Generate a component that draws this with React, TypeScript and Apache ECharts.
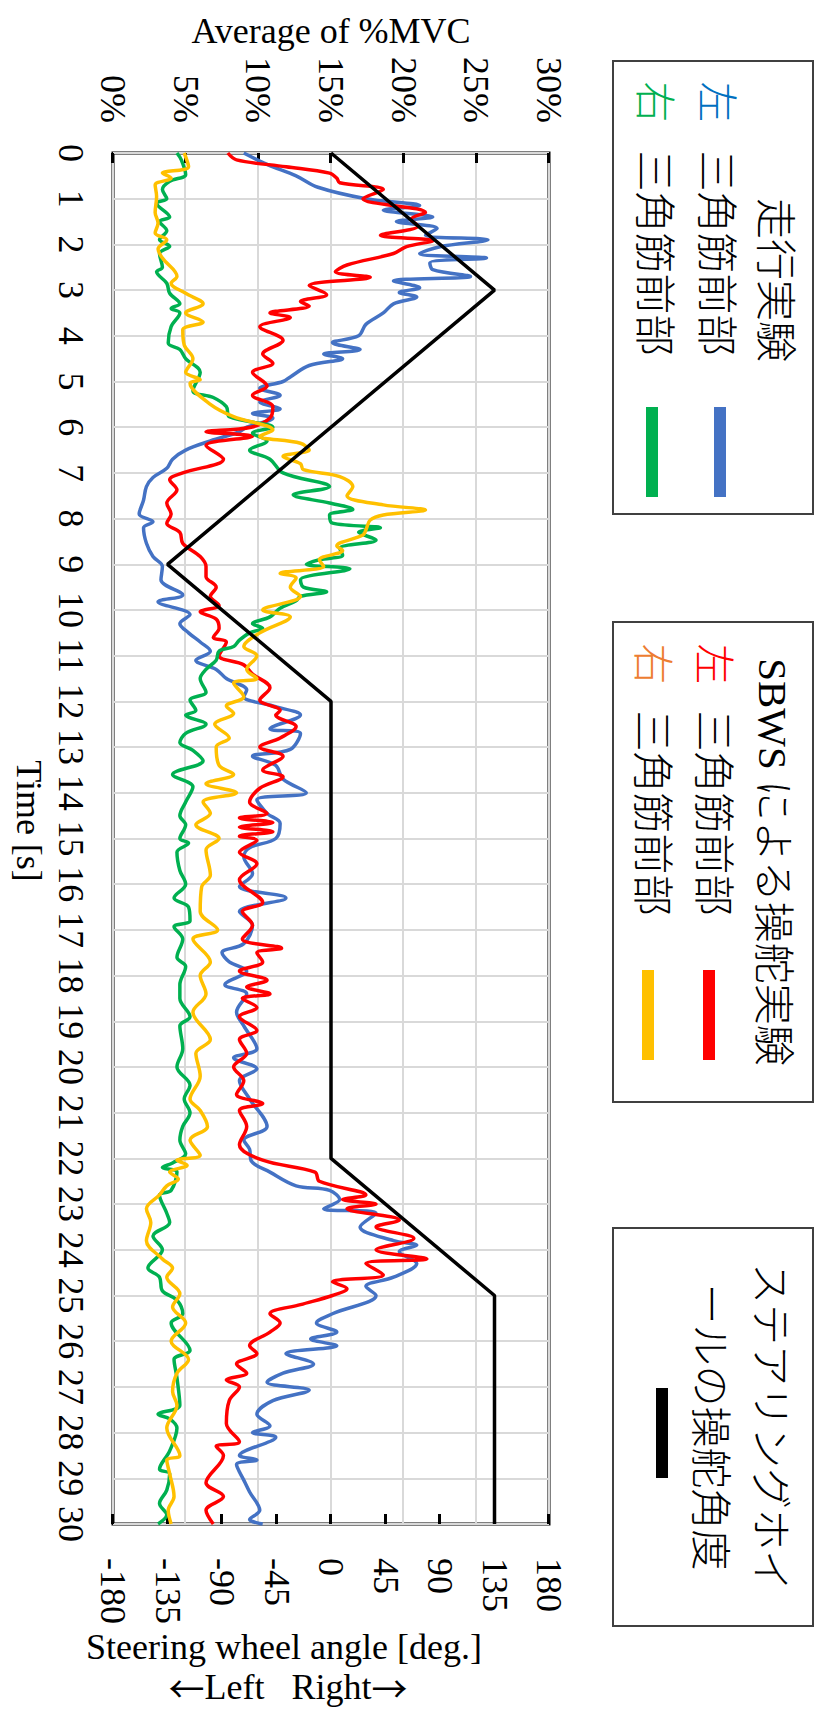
import React, { useEffect, useRef } from "react";
import * as echarts from "echarts";

// The chart is laid out landscape (1715 x 819) and turned a quarter turn clockwise on the page.
const W = 1715;
const H = 819;
const FONT = "'Liberation Serif', 'Noto Sans CJK JP', serif";
const CJK = "'Noto Sans CJK JP', sans-serif";

// Steering wheel angle [deg.]
const wheelT = [0, 3, 9, 12, 22, 25, 30];
const wheelDeg = [0, 135, -135, 0, 0, 135, 135];

// 走行実験 左 三角筋前部 (%MVC)
const driveLeftT = [0, 0.25, 0.5, 0.75, 1.0, 1.15, 1.25, 1.4, 1.5, 1.65, 1.8, 1.9, 2.05, 2.2, 2.3, 2.4, 2.55, 2.7, 2.8, 2.95, 3.05, 3.15, 3.3, 3.5, 3.75, 4.0, 4.15, 4.3, 4.4, 4.5, 4.65, 4.9, 5.0, 5.15, 5.3, 5.45, 5.6, 5.7, 5.8, 6.0, 6.1, 6.3, 6.5, 6.7, 6.9, 7.1, 7.3, 7.6, 7.9, 8.07, 8.2, 8.54, 8.83, 9.05, 9.34, 9.67, 9.82, 10.1, 10.3, 10.5, 10.7, 10.9, 11.1, 11.3, 11.5, 11.75, 11.9, 12.1, 12.3, 12.6, 12.7, 13.05, 13.2, 13.4, 13.7, 14.0, 14.15, 14.45, 14.67, 15.0, 15.2, 15.4, 15.77, 16.05, 16.3, 16.6, 16.9, 17.3, 17.5, 17.7, 17.9, 18.2, 18.4, 18.8, 19.1, 19.6, 19.8, 20.04, 20.3, 20.7, 21.3, 21.6, 21.8, 22.05, 22.3, 22.6, 22.7, 22.9, 23.1, 23.2, 23.5, 23.8, 23.9, 24.04, 24.3, 24.6, 24.8, 25.0, 25.4, 25.6, 25.8, 25.95, 26.1, 26.27, 26.5, 26.7, 26.9, 27.07, 27.3, 27.6, 27.85, 28.0, 28.1, 28.5, 28.6, 28.7, 29.04, 29.3, 29.7, 29.9, 30];
const driveLeftV = [9.0, 10.6, 12.6, 14.1, 17.4, 21.1, 18.6, 22.0, 19.5, 22.3, 21.5, 25.8, 22.5, 21.1, 25.7, 21.8, 22.0, 24.6, 19.3, 21.1, 19.7, 20.9, 19.3, 18.6, 17.4, 16.9, 15.1, 17.0, 14.5, 15.8, 13.5, 12.2, 11.7, 10.1, 11.5, 10.1, 11.5, 9.6, 11.0, 9.2, 8.7, 6.7, 5.0, 4.1, 3.7, 2.75, 2.3, 2.1, 1.8, 2.75, 2.1, 2.3, 2.75, 3.4, 3.3, 4.8, 3.1, 5.3, 4.6, 5.2, 6.0, 6.7, 5.7, 7.1, 7.8, 9.2, 9.0, 11.0, 12.9, 10.8, 12.9, 12.2, 9.6, 11.2, 11.7, 13.3, 9.9, 10.6, 11.5, 11.2, 9.4, 9.0, 9.6, 8.7, 11.9, 8.7, 9.6, 9.0, 7.5, 8.0, 9.2, 7.7, 9.2, 8.5, 9.0, 9.9, 8.3, 9.9, 8.7, 9.4, 10.6, 9.0, 9.4, 9.5, 10.8, 12.6, 14.9, 15.6, 14.5, 18.1, 17.0, 19.3, 20.9, 19.7, 20.9, 19.3, 17.4, 18.1, 15.1, 14.0, 15.4, 13.6, 15.4, 11.9, 13.8, 11.7, 10.6, 13.5, 11.0, 9.9, 10.8, 9.6, 11.2, 8.7, 9.9, 8.5, 9.0, 9.4, 10.1, 9.4, 10.3];

// 走行実験 右 三角筋前部 (%MVC)
const driveRightT = [0, 0.15, 0.47, 0.62, 0.8, 1.0, 1.1, 1.4, 1.5, 1.7, 1.9, 2.04, 2.2, 2.5, 2.6, 2.85, 3.07, 3.3, 3.4, 3.5, 3.8, 4.16, 4.3, 4.5, 4.8, 5.2, 5.35, 5.55, 5.77, 6.0, 6.13, 6.3, 6.5, 6.7, 7.0, 7.3, 7.48, 7.66, 7.8, 7.92, 8.1, 8.2, 8.3, 8.47, 8.65, 8.8, 8.9, 9.0, 9.1, 9.34, 9.5, 9.6, 9.7, 9.8, 9.96, 10.15, 10.3, 10.4, 10.5, 10.66, 10.8, 10.9, 11.1, 11.3, 11.5, 11.8, 11.97, 12.2, 12.3, 12.5, 12.7, 12.9, 13.07, 13.3, 13.6, 13.87, 14.2, 14.5, 14.7, 15.0, 15.1, 15.3, 15.7, 16.0, 16.3, 16.5, 16.8, 16.93, 17.2, 17.6, 17.8, 18.2, 18.5, 18.9, 19.1, 19.6, 20.0, 20.4, 20.7, 21.0, 21.3, 21.6, 21.9, 22.1, 22.2, 22.3, 22.7, 22.8, 23.2, 23.4, 23.7, 24.0, 24.4, 24.6, 24.9, 25.1, 25.4, 25.6, 26.2, 26.4, 26.8, 27.4, 27.6, 27.7, 27.9, 28.4, 28.8, 28.9, 29.26, 29.55, 29.8, 30];
const driveRightV = [4.4, 4.7, 5.0, 3.9, 3.4, 3.7, 3.0, 3.9, 3.2, 3.7, 3.2, 3.9, 3.2, 3.4, 3.0, 3.7, 3.9, 4.6, 4.0, 4.6, 4.0, 3.8, 4.6, 5.0, 6.0, 5.5, 6.9, 7.8, 8.0, 11.0, 9.6, 10.6, 9.4, 10.8, 11.7, 14.9, 12.4, 14.9, 16.5, 14.9, 15.1, 18.4, 16.9, 18.1, 15.6, 15.8, 14.2, 13.3, 16.3, 12.9, 13.1, 14.7, 12.9, 12.6, 11.5, 10.8, 9.6, 10.3, 9.4, 8.7, 8.3, 7.3, 7.1, 6.4, 6.0, 6.4, 5.3, 5.7, 5.0, 6.4, 5.0, 4.6, 5.5, 6.2, 4.1, 5.5, 5.0, 4.6, 5.0, 4.6, 5.2, 4.4, 4.6, 5.0, 4.2, 5.2, 5.3, 4.2, 4.8, 4.4, 5.0, 4.6, 4.6, 5.3, 4.6, 4.8, 4.4, 5.3, 4.9, 5.3, 4.8, 4.6, 5.0, 4.1, 3.4, 4.4, 4.0, 3.2, 3.7, 3.9, 2.75, 3.4, 2.4, 3.2, 3.4, 4.4, 4.8, 4.0, 5.3, 4.2, 4.4, 4.6, 3.1, 3.9, 4.4, 3.9, 3.2, 3.9, 3.7, 3.2, 3.7, 3.1];

// SBWSによる操舵実験 左 三角筋前部 (%MVC)
const sbwsLeftT = [0, 0.15, 0.3, 0.44, 0.55, 0.65, 0.8, 1.0, 1.3, 1.45, 1.6, 1.8, 1.92, 2.05, 2.2, 2.45, 2.6, 2.72, 2.9, 3.1, 3.25, 3.35, 3.5, 3.6, 3.8, 4.1, 4.4, 4.6, 4.8, 5.1, 5.3, 5.55, 5.8, 6.0, 6.1, 6.2, 6.4, 6.7, 7.0, 7.15, 7.37, 7.66, 7.9, 8.1, 8.3, 8.54, 8.83, 9.05, 9.27, 9.5, 9.7, 9.9, 10.04, 10.2, 10.4, 10.6, 10.7, 11.0, 11.2, 11.4, 11.7, 11.97, 12.2, 12.3, 12.55, 12.8, 13.0, 13.2, 13.5, 13.65, 13.9, 14.2, 14.45, 14.55, 14.65, 14.75, 14.85, 14.95, 15.04, 15.3, 15.55, 15.9, 16.4, 16.6, 16.9, 17.2, 17.4, 17.5, 17.7, 17.9, 18.1, 18.25, 18.4, 18.5, 18.7, 18.9, 19.2, 19.4, 19.7, 20.0, 20.3, 20.6, 20.8, 20.95, 21.3, 21.7, 22.04, 22.3, 22.5, 22.8, 22.9, 23.0, 23.1, 23.35, 23.5, 23.75, 24.0, 24.2, 24.3, 24.55, 24.7, 24.85, 25.0, 25.2, 25.4, 25.6, 25.8, 26.1, 26.27, 26.5, 26.7, 26.85, 27.0, 27.3, 27.8, 28.2, 28.3, 28.5, 29.1, 29.4, 29.7, 30];
const sbwsLeftV = [7.9, 8.5, 11.9, 14.9, 15.4, 15.6, 18.6, 17.2, 21.5, 20.5, 21.0, 18.4, 22.0, 20.2, 19.3, 16.1, 15.3, 17.7, 13.5, 14.7, 12.9, 13.5, 10.8, 12.2, 10.1, 11.7, 10.3, 11.0, 9.6, 10.6, 9.6, 11.0, 10.8, 9.5, 6.4, 9.6, 6.4, 7.6, 4.8, 3.9, 4.4, 3.7, 4.0, 3.7, 4.6, 4.8, 6.0, 6.4, 6.4, 7.1, 6.7, 7.3, 6.0, 7.1, 7.3, 6.9, 7.8, 7.3, 9.0, 9.6, 10.8, 10.1, 11.5, 11.2, 12.6, 11.5, 10.1, 11.7, 10.3, 11.7, 10.1, 9.4, 10.6, 8.7, 11.0, 8.7, 11.0, 8.7, 9.9, 8.7, 9.9, 8.7, 10.3, 8.9, 9.6, 8.9, 11.6, 9.9, 10.3, 8.7, 10.6, 9.2, 10.8, 8.9, 9.9, 8.7, 9.9, 8.7, 9.2, 8.3, 9.0, 8.5, 10.3, 8.7, 9.2, 8.7, 10.3, 13.9, 14.2, 17.4, 15.8, 18.1, 16.1, 19.7, 18.1, 20.7, 18.1, 21.6, 17.4, 18.6, 15.1, 16.1, 15.1, 12.9, 10.8, 11.5, 10.8, 9.4, 9.9, 8.5, 9.2, 7.8, 8.7, 8.0, 7.8, 8.7, 7.1, 7.6, 6.4, 7.6, 6.4, 6.9];

// SBWSによる操舵実験 右 三角筋前部 (%MVC)
const sbwsRightT = [0, 0.3, 0.44, 0.55, 0.7, 0.95, 1.3, 1.53, 1.75, 1.9, 2.1, 2.3, 2.7, 2.85, 3.07, 3.3, 3.5, 3.7, 3.87, 4.2, 4.5, 4.8, 4.96, 5.04, 5.5, 5.77, 6.06, 6.2, 6.35, 6.5, 6.64, 6.8, 6.93, 7.08, 7.3, 7.5, 7.7, 7.81, 7.92, 8.03, 8.25, 8.36, 8.6, 8.7, 8.9, 9.05, 9.2, 9.3, 9.5, 9.7, 10.0, 10.15, 10.5, 10.8, 11.0, 11.3, 11.5, 11.6, 11.9, 12.1, 12.26, 12.5, 12.8, 13.0, 13.4, 13.6, 13.8, 14.0, 14.2, 14.45, 14.7, 15.0, 15.25, 15.8, 16.06, 16.6, 17.0, 17.2, 17.7, 18.0, 18.4, 18.8, 19.4, 19.7, 20.2, 20.7, 20.95, 21.3, 21.6, 21.93, 22.04, 22.15, 22.3, 22.45, 22.6, 22.8, 23.1, 23.4, 23.8, 24.2, 24.4, 24.6, 24.96, 25.25, 25.6, 26.0, 26.4, 26.7, 27.1, 27.4, 27.9, 28.5, 28.6, 28.9, 29.4, 29.7, 30];
const sbwsRightV = [4.9, 5.2, 3.4, 4.0, 2.9, 3.0, 2.9, 3.1, 2.9, 3.7, 3.1, 3.4, 4.4, 4.0, 5.0, 6.2, 5.0, 6.2, 4.8, 4.9, 5.5, 5.0, 6.0, 5.3, 6.7, 8.3, 11.0, 10.1, 12.9, 13.5, 11.7, 12.9, 13.1, 15.6, 16.5, 16.1, 18.6, 21.5, 18.6, 17.7, 17.4, 17.2, 15.4, 15.8, 14.2, 14.5, 11.5, 12.6, 12.2, 12.9, 10.3, 12.2, 10.1, 9.0, 9.9, 9.2, 9.9, 8.3, 9.0, 7.8, 8.3, 7.0, 8.0, 7.1, 7.3, 8.3, 6.4, 8.5, 6.2, 6.7, 5.7, 7.3, 6.4, 6.7, 6.1, 6.0, 7.2, 5.5, 6.7, 6.0, 6.4, 5.5, 6.7, 5.7, 6.0, 5.3, 6.0, 6.5, 5.3, 6.0, 4.4, 5.1, 3.9, 4.5, 3.7, 3.2, 2.3, 2.6, 2.3, 3.4, 4.1, 3.7, 4.6, 4.1, 5.0, 4.0, 5.2, 4.4, 4.1, 4.4, 3.7, 4.6, 3.7, 3.9, 4.2, 3.8, 4.0];

const pairs = (t: number[], v: number[]) => t.map((x, i) => [x, v[i]]);

const emgLine = (name: string, t: number[], v: number[], color: string) => ({
  name,
  type: "line",
  yAxisIndex: 0,
  data: pairs(t, v),
  smooth: 0.35,
  symbol: "none",
  lineStyle: { color, width: 3.5 },
  itemStyle: { color },
});

const box = (x: number, y: number, w: number, h: number) => ({
  type: "rect",
  z: 10,
  shape: { x, y, width: w, height: h },
  style: { fill: "#ffffff", stroke: "#404040", lineWidth: 2 },
});

const label = (text: string, x: number, y: number, size: number, fill = "#000", rotation = 0) => ({
  type: "text",
  z: 11,
  x,
  y,
  rotation,
  style: {
    text,
    fontSize: size,
    fontFamily: FONT,
    fontWeight: 300,
    fill,
    align: "center",
    verticalAlign: "middle",
    rich: { a: { fontFamily: CJK, fontSize: size, fill } },
  },
});

const swatch = (x: number, y: number, color: string) => ({
  type: "rect",
  z: 11,
  shape: { x, y: y - 6, width: 90, height: 12 },
  style: { fill: color },
});

const LEG = 41;

const graphics = [
  // axis titles
  label("Average of %MVC", 31, 488, 36, "#000", Math.PI / 2),
  label("Steering wheel angle [deg.]", 1647, 535, 36, "#000", Math.PI / 2),
  label("{a|←}Left   Right{a|→}", 1687, 531, 36, "#000", Math.PI / 2),
  label("Time [s]", 821, 790, 36),

  // legend: 走行実験
  box(61, 6, 453, 200),
  label("走行実験", 280, 44, LEG),
  label("左", 102, 103, LEG, "#0070C0"),
  label("三角筋前部", 253, 103, LEG),
  swatch(407, 99, "#4472C4"),
  label("右", 102, 165, LEG, "#00B050"),
  label("三角筋前部", 253, 165, LEG),
  swatch(407, 167, "#00B050"),

  // legend: SBWSによる操舵実験
  box(622, 6, 480, 200),
  label("SBWS による操舵実験", 862, 46, LEG),
  label("左", 664, 106, LEG, "#FF0000"),
  label("三角筋前部", 813, 106, LEG),
  swatch(970, 110, "#FF0000"),
  label("右", 664, 167, LEG, "#ED7D31"),
  label("三角筋前部", 813, 167, LEG),
  swatch(970, 171, "#FFC000"),

  // legend: steering wheel angle
  box(1228, 6, 398, 200),
  label("ステアリングホイ", 1427, 49, LEG),
  label("ールの操舵角度", 1427, 109, LEG),
  swatch(1388, 157, "#000000"),
];

const option = {
  animation: false,
  backgroundColor: "#ffffff",
  textStyle: { fontFamily: FONT },
  grid: {
    left: 153,
    right: W - 1524,
    top: 270,
    bottom: H - 706,
    show: true,
    borderColor: "#000",
    borderWidth: 3,
    backgroundColor: "transparent",
  },
  xAxis: {
    type: "value",
    min: 0,
    max: 30,
    interval: 1,
    axisLine: { show: false },
    axisTick: { show: false },
    splitLine: { show: true, lineStyle: { color: "#d9d9d9", width: 2 } },
    axisLabel: { fontSize: 36, fontFamily: FONT, color: "#000", margin: 24 },
  },
  yAxis: [
    {
      type: "value",
      min: 0,
      max: 30,
      interval: 5,
      position: "left",
      axisLine: { show: false },
      axisTick: { show: true, inside: true, length: 10, lineStyle: { color: "#000", width: 3 } },
      splitLine: { show: true, lineStyle: { color: "#d9d9d9", width: 2 } },
      axisLabel: { fontSize: 36, fontFamily: FONT, color: "#000", margin: 30, formatter: "{value}%" },
    },
    {
      type: "value",
      min: -180,
      max: 180,
      interval: 45,
      position: "right",
      axisLine: { show: false },
      axisTick: { show: true, inside: true, length: 10, lineStyle: { color: "#000", width: 3 } },
      splitLine: { show: false },
      axisLabel: { fontSize: 36, fontFamily: FONT, color: "#000", margin: 34 },
    },
  ],
  series: [
    emgLine("走行実験 左 三角筋前部", driveLeftT, driveLeftV, "#4472C4"),
    emgLine("SBWSによる操舵実験 左 三角筋前部", sbwsLeftT, sbwsLeftV, "#FF0000"),
    emgLine("走行実験 右 三角筋前部", driveRightT, driveRightV, "#00B050"),
    emgLine("SBWSによる操舵実験 右 三角筋前部", sbwsRightT, sbwsRightV, "#FFC000"),
    {
      name: "ステアリングホイールの操舵角度",
      type: "line",
      yAxisIndex: 1,
      data: pairs(wheelT, wheelDeg),
      symbol: "none",
      lineStyle: { color: "#000", width: 3.5 },
      itemStyle: { color: "#000" },
    },
  ],
  graphic: graphics,
};

export default function App() {
  const ref = useRef<HTMLDivElement>(null);
  useEffect(() => {
    if (!ref.current) return;
    const chart = echarts.init(ref.current, undefined, { renderer: "svg" });
    chart.setOption(option as any);
    return () => chart.dispose();
  }, []);
  return (
    <div
      style={{
        position: "absolute",
        left: 0,
        top: 0,
        width: H,
        height: W,
        overflow: "hidden",
        background: "#fff",
      }}
    >
      <div
        ref={ref}
        style={{
          position: "absolute",
          left: 0,
          top: 0,
          width: W,
          height: H,
          transformOrigin: "0 0",
          transform: `translate(${H}px, 0px) rotate(90deg)`,
        }}
      />
    </div>
  );
}
